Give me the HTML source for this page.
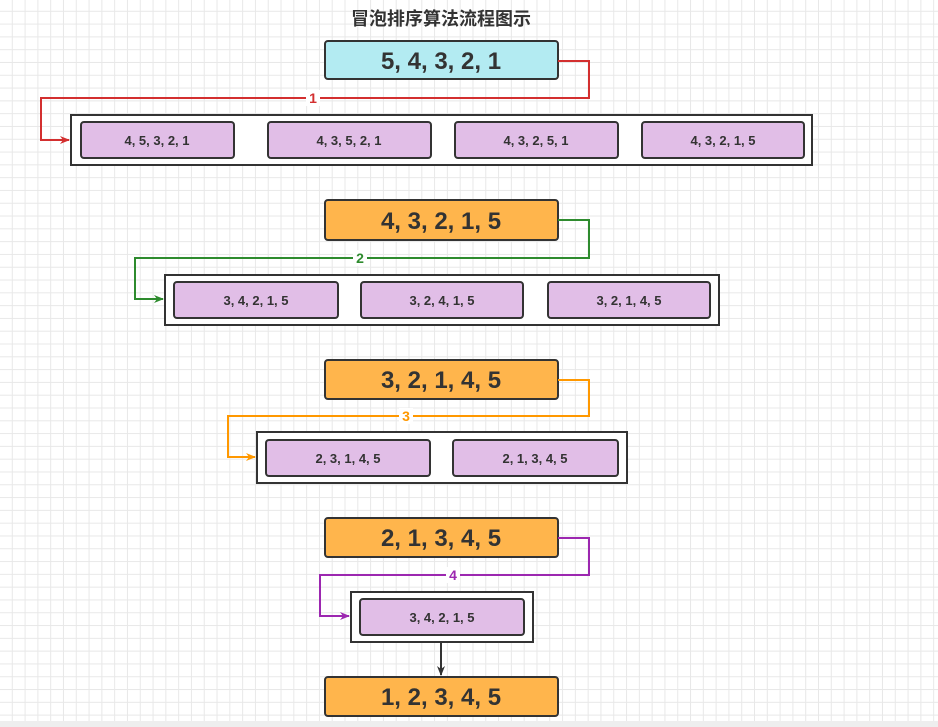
<!DOCTYPE html>
<html><head><meta charset="utf-8"><style>
html,body{margin:0;padding:0;}
body{width:938px;height:727px;overflow:hidden;background-color:#fff;
background-image:linear-gradient(#e8e8e8 1px,transparent 1px),linear-gradient(90deg,#e8e8e8 1px,transparent 1px);
background-size:12.8px 12.8px;background-position:-1px -2px;}
svg{position:absolute;left:0;top:0;}
text{font-family:"Liberation Sans","Noto Sans CJK SC",sans-serif;font-weight:bold;fill:#333;text-anchor:middle;}
</style></head><body>
<svg width="938" height="727" viewBox="0 0 938 727">
<defs>
<marker id="ar" markerWidth="10" markerHeight="10" refX="9" refY="5" orient="auto" markerUnits="userSpaceOnUse"><path d="M0,1 L10,5 L0,9 L3,5 Z" fill="context-stroke"/></marker>
<marker id="r" markerWidth="10" markerHeight="10" refX="9" refY="5" orient="auto" markerUnits="userSpaceOnUse"><path d="M0,1 L10,5 L0,9 L3,5 Z" fill="#d32f2f"/></marker>
<marker id="g" markerWidth="10" markerHeight="10" refX="9" refY="5" orient="auto" markerUnits="userSpaceOnUse"><path d="M0,1 L10,5 L0,9 L3,5 Z" fill="#2e8b2e"/></marker>
<marker id="o" markerWidth="10" markerHeight="10" refX="9" refY="5" orient="auto" markerUnits="userSpaceOnUse"><path d="M0,1 L10,5 L0,9 L3,5 Z" fill="#ff9800"/></marker>
<marker id="p" markerWidth="10" markerHeight="10" refX="9" refY="5" orient="auto" markerUnits="userSpaceOnUse"><path d="M0,1 L10,5 L0,9 L3,5 Z" fill="#9c27b0"/></marker>
<marker id="k" markerWidth="10" markerHeight="10" refX="9" refY="5" orient="auto" markerUnits="userSpaceOnUse"><path d="M0,1 L10,5 L0,9 L3,5 Z" fill="#333"/></marker>
</defs>
<rect x="0" y="721" width="938" height="6" fill="#eee"/>
<text x="441" y="25" font-size="18">冒泡排序算法流程图示</text>

<g stroke="#333" stroke-width="2">
<rect x="325" y="41" width="233" height="38" rx="3" fill="#b3ebf2"/>
<rect x="325" y="200" width="233" height="40" rx="3" fill="#ffb54c"/>
<rect x="325" y="360" width="233" height="39" rx="3" fill="#ffb54c"/>
<rect x="325" y="518" width="233" height="39" rx="3" fill="#ffb54c"/>
<rect x="325" y="677" width="233" height="39" rx="3" fill="#ffb54c"/>
<rect x="71" y="115" width="741" height="50" fill="#fff"/>
<rect x="165" y="275" width="554" height="50" fill="#fff"/>
<rect x="257" y="432" width="370" height="51" fill="#fff"/>
<rect x="351" y="592" width="182" height="50" fill="#fff"/>
<g fill="#e1bee7">
<rect x="81" y="122" width="153" height="36" rx="3"/>
<rect x="268" y="122" width="163" height="36" rx="3"/>
<rect x="455" y="122" width="163" height="36" rx="3"/>
<rect x="642" y="122" width="162" height="36" rx="3"/>
<rect x="174" y="282" width="164" height="36" rx="3"/>
<rect x="361" y="282" width="162" height="36" rx="3"/>
<rect x="548" y="282" width="162" height="36" rx="3"/>
<rect x="266" y="440" width="164" height="36" rx="3"/>
<rect x="453" y="440" width="165" height="36" rx="3"/>
<rect x="360" y="599" width="164" height="36" rx="3"/>
</g></g>

<g fill="none" stroke-width="2">
<polyline points="558,61 589,61 589,98 41,98 41,140 69,140" stroke="#d32f2f" marker-end="url(#r)"/>
<polyline points="558,220 589,220 589,258 135,258 135,299 163,299" stroke="#2e8b2e" marker-end="url(#g)"/>
<polyline points="558,380 589,380 589,416 228,416 228,457 255,457" stroke="#ff9800" marker-end="url(#o)"/>
<polyline points="558,538 589,538 589,575 320,575 320,616 349,616" stroke="#9c27b0" marker-end="url(#p)"/>
<line x1="441" y1="642" x2="441" y2="675" stroke="#333" marker-end="url(#k)"/>
</g>
<g font-size="14">
<rect x="306" y="90" width="14" height="16" fill="#fff"/><text x="313" y="103" style="fill:#d32f2f">1</text>
<rect x="353" y="250" width="14" height="16" fill="#fff"/><text x="360" y="263" style="fill:#2e8b2e">2</text>
<rect x="399" y="408" width="14" height="16" fill="#fff"/><text x="406" y="421" style="fill:#ff9800">3</text>
<rect x="446" y="567" width="14" height="16" fill="#fff"/><text x="453" y="580" style="fill:#9c27b0">4</text>
</g>

<g font-size="24">
<text x="441" y="69">5, 4, 3, 2, 1</text>
<text x="441" y="229">4, 3, 2, 1, 5</text>
<text x="441" y="388">3, 2, 1, 4, 5</text>
<text x="441" y="546">2, 1, 3, 4, 5</text>
<text x="441" y="705">1, 2, 3, 4, 5</text>
</g>
<g font-size="13">
<text x="157" y="145">4, 5, 3, 2, 1</text>
<text x="349" y="145">4, 3, 5, 2, 1</text>
<text x="536" y="145">4, 3, 2, 5, 1</text>
<text x="723" y="145">4, 3, 2, 1, 5</text>
<text x="256" y="305">3, 4, 2, 1, 5</text>
<text x="442" y="305">3, 2, 4, 1, 5</text>
<text x="629" y="305">3, 2, 1, 4, 5</text>
<text x="348" y="463">2, 3, 1, 4, 5</text>
<text x="535" y="463">2, 1, 3, 4, 5</text>
<text x="442" y="622">3, 4, 2, 1, 5</text>
</g>
</svg>
</body></html>
